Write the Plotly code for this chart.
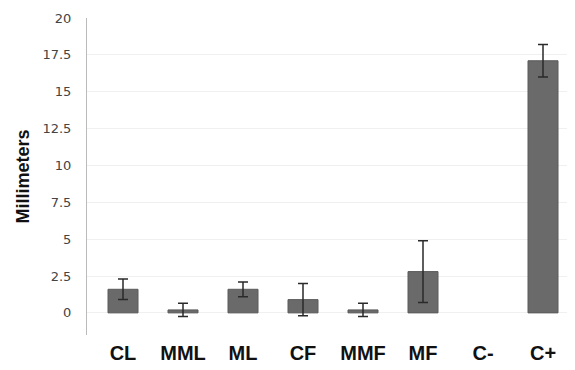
import plotly.graph_objects as go

categories = ["CL", "MML", "ML", "CF", "MMF", "MF", "C-", "C+"]
values = [1.6, 0.2, 1.6, 0.9, 0.2, 2.8, 0.0, 17.1]
errors = [0.7, 0.45, 0.5, 1.1, 0.45, 2.1, 0.0, 1.1]
y_ticks = [0, 2.5, 5, 7.5, 10, 12.5, 15, 17.5, 20]

# a zero reading draws no bar and no error bar
plot_y = [v if v > 0 else None for v in values]

fig = go.Figure()
fig.add_trace(go.Bar(
    x=categories, y=plot_y,
    marker=dict(color="#6a6a6a", line=dict(color="#5a5a5a", width=1)),
    width=0.5,
    error_y=dict(type="data", array=errors, visible=True,
                 color="#2a2a2a", thickness=1.5, width=5),
))

fig.update_layout(
    width=567, height=362,
    margin=dict(l=79, r=2, t=10, b=35, autoexpand=False),
    paper_bgcolor="white", plot_bgcolor="white",
    showlegend=False,
    xaxis=dict(
        range=[-0.6, 7.5],
        tickvals=categories,
        ticktext=["<b>%s</b>" % c for c in categories],
        tickfont=dict(family="Liberation Sans, Arial", size=20, color="#111111"),
        showline=False, showgrid=False, ticks="",
        ticklabelstandoff=4,
        automargin=False,
    ),
    yaxis=dict(
        range=[-1.5, 20],
        tickvals=y_ticks,
        ticktext=[str(v) for v in y_ticks],
        tickfont=dict(family="DejaVu Sans, Verdana", size=13, color="#444444"),
        showline=True, linecolor="#bbbbbb", linewidth=1,
        showgrid=True, gridcolor="#f0f0f0", gridwidth=1,
        zeroline=False,
        ticks="", ticklabelstandoff=12,
        automargin=False,
        title=dict(text="<b>Millimeters</b>",
                   font=dict(family="Liberation Sans, Arial", size=18, color="#111111"),
                   standoff=8),
    ),
)

fig.write_html("out.html")
